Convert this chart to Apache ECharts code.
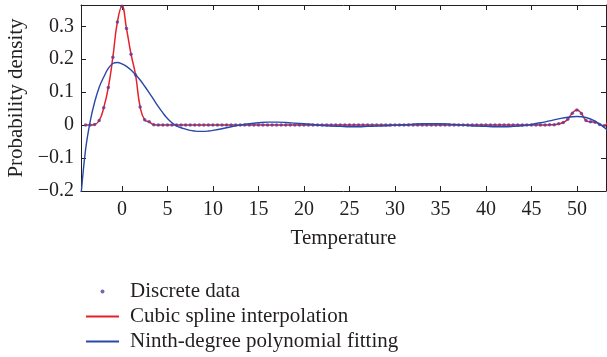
<!DOCTYPE html>
<html>
<head>
<meta charset="utf-8">
<script src="https://cdn.jsdelivr.net/npm/echarts@6/dist/echarts.min.js"></script>
<style>html,body{margin:0;padding:0;background:#fff}#c{width:607px;height:357px}</style>
</head>
<body>
<div id="c"></div>
<script>
// Discrete data (temperature step 0.5)
var discreteT = [
  -4,-3.5,-3,-2.5,-2,-1.5,-1,-0.5,0,0.5,1,1.5,2,2.5,3,3.5,
  4,4.5,5,5.5,6,6.5,7,7.5,8,8.5,9,9.5,10,10.5,11,11.5,12,12.5,13,13.5,14,14.5,15,15.5,
  16,16.5,17,17.5,18,18.5,19,19.5,20,20.5,21,21.5,22,22.5,23,23.5,24,24.5,25,25.5,
  26,26.5,27,27.5,28,28.5,29,29.5,30,30.5,31,31.5,32,32.5,33,33.5,34,34.5,35,35.5,
  36,36.5,37,37.5,38,38.5,39,39.5,40,40.5,41,41.5,42,42.5,43,43.5,44,44.5,45,45.5,
  46,46.5,47,47.5,48,48.5,49,49.5,50,50.5,51,51.5,52,52.5,53,53.5
];
var discreteV = [
  0,0,0.002,0.014,0.053,0.114,0.206,0.313,0.361,0.293,0.215,0.152,0.055,0.016,0.010,0.001,
  0,0,0,0,0,0,0,0,0,0,0,0,0,0,0,0,0,0,0,0,0,0,0,0,
  0,0,0,0,0,0,0,0,0,0,0,0,0,0,0,0,0,0,0,0,
  0,0,0,0,0,0,0,0,0,0,0,0,0,0,0,0,0,0,0,0,
  0,0,0,0,0,0,0,0,0,0,0,0,0,0,0,0,0,0,0,0,
  0,0,0.001,0.001,0.004,0.008,0.018,0.036,0.046,0.035,0.014,0.010,0.009,0.002,-0.002,0.030
];
// Ninth-degree polynomial fit
var polyT = [-4.5,-4,-3.5,-3,-2.5,-2,-1.5,-1,-0.5,0,0.5,1,1.5,2,2.5,3,3.5,4,4.5,5,5.5,6,6.5,7,7.5,8,8.5,9,9.5,10,
  11,12,13,14,15,16,17,18,19,20,21,22,23,24,25,26,27,28,29,30,31,32,33,34,35,36,37,38,39,40,
  41,42,43,44,45,46,47,48,49,50,51,52,53,53.5];
var polyV = [-0.215,-0.075,0.01,0.07,0.115,0.146,0.172,0.187,0.19,0.186,0.178,0.167,0.153,0.137,0.118,0.098,0.077,0.056,0.037,0.02,0.007,-0.002,-0.008,-0.012,-0.016,-0.018,-0.019,-0.019,-0.018,-0.016,
  -0.011,-0.005,0.0,0.004,0.007,0.009,0.009,0.008,0.006,0.004,0.002,-0.001,-0.003,-0.004,-0.005,-0.005,-0.004,-0.003,-0.002,0.0,
  0.001,0.003,0.004,0.004,0.004,0.003,0.001,-0.001,-0.003,-0.004,
  -0.005,-0.005,-0.004,-0.002,0.002,0.007,0.013,0.019,0.024,0.026,0.023,0.012,-0.007,-0.02];

var xTicks = [0,5,10,15,20,25,30,35,40,45,50];
var yTicks = [-0.2,-0.1,0,0.1,0.2,0.3];
var names = ['Discrete data','Cubic spline interpolation','Ninth-degree polynomial fitting'];

function pairs(a,b){ return a.map(function(t,i){ return [t,b[i]]; }); }
function fmtY(v){ return v < 0 ? '\u2212' + Math.abs(v) : String(v); }

var FONT = 'Liberation Serif';
var TXT = '#231f20';
var AX = '#231f20';
var RED = '#e8202a', BLUE = '#2a48a6', PURPLE = '#5a3c9c';

var chart = echarts.init(document.getElementById('c'));
var baseX = {
  type:'value', min:-4.5, max:53.2,
  axisLine:{show:true, onZero:false, lineStyle:{color:AX, width:1}},
  splitLine:{show:false}
};
var baseY = {
  type:'value', min:-0.2, max:0.3645,
  axisLine:{show:true, onZero:false, lineStyle:{color:AX, width:1}},
  splitLine:{show:false}
};
var hidden = {color:'rgba(0,0,0,0)', borderWidth:0, opacity:0};
chart.setOption({
  animation:false,
  backgroundColor:'#fff',
  textStyle:{fontFamily:FONT},
  grid:{left:81, right:1, top:5, bottom:166, containLabel:false, outerBoundsMode:'none'},
  xAxis:[
    Object.assign({}, baseX, {position:'bottom',
      name:'Temperature', nameLocation:'middle', nameGap:37,
      nameTextStyle:{fontFamily:FONT, fontSize:21, color:TXT},
      axisTick:{show:true, inside:true, length:5, lineStyle:{color:AX}, customValues:xTicks},
      axisLabel:{show:true, margin:9, fontFamily:FONT, fontSize:20, color:TXT, customValues:xTicks}
    }),
    Object.assign({}, baseX, {position:'top',
      axisTick:{show:true, inside:true, length:5, lineStyle:{color:AX}, customValues:xTicks},
      axisLabel:{show:false}
    })
  ],
  yAxis:[
    Object.assign({}, baseY, {position:'left',
      name:'Probability density', nameLocation:'middle', nameGap:54,
      nameTextStyle:{fontFamily:FONT, fontSize:21, color:TXT},
      axisTick:{show:true, inside:true, length:5, lineStyle:{color:AX}, customValues:yTicks},
      axisLabel:{show:true, margin:7, fontFamily:FONT, fontSize:20, color:TXT, customValues:yTicks, formatter:fmtY}
    }),
    Object.assign({}, baseY, {position:'right',
      axisTick:{show:true, inside:true, length:5, lineStyle:{color:AX}, customValues:yTicks},
      axisLabel:{show:false}
    })
  ],
  legend:{
    orient:'vertical', left:80, top:276, height:100, itemWidth:33, itemHeight:4, itemGap:4,
    selectedMode:false,
    textStyle:{fontFamily:FONT, fontSize:21, color:TXT, padding:[0,0,0,6]},
    data:[
      {name:names[0], icon:'circle'},
      {name:names[1], itemStyle:hidden},
      {name:names[2], itemStyle:hidden}
    ]
  },
  series:[
    {name:names[1], type:'line', data:pairs(discreteT, discreteV), smooth:0.5, symbol:'none',
     lineStyle:{color:RED, width:1.5}, itemStyle:{color:RED}, z:2, clip:true},
    {name:names[0], type:'scatter', data:pairs(discreteT, discreteV), symbol:'circle', symbolSize:3.5,
     itemStyle:{color:PURPLE}, z:3, clip:true},
    {name:names[2], type:'line', data:pairs(polyT, polyV), smooth:0.4, symbol:'none',
     lineStyle:{color:BLUE, width:1.4}, itemStyle:{color:BLUE}, z:4, clip:true}
  ]
});
</script>
</body>
</html>
